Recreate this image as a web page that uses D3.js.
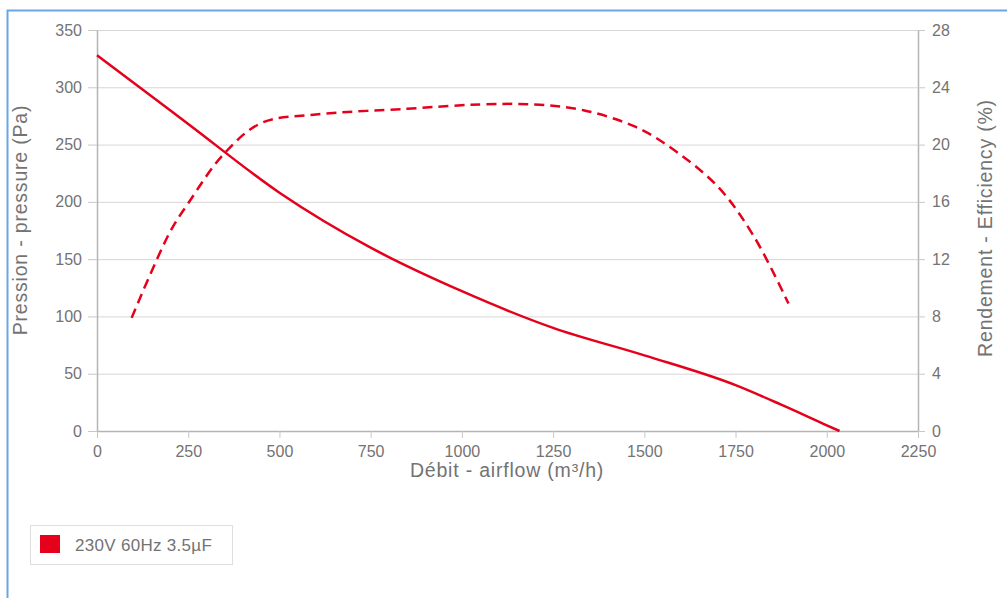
<!DOCTYPE html>
<html>
<head>
<meta charset="utf-8">
<script src="https://cdn.jsdelivr.net/npm/d3@7"></script>
<style>
  body { margin: 0; background: #fff; }
  svg { display: block; font-family: "Liberation Sans", Arial, sans-serif; }
  .tick text { fill: #737373; font-size: 16px; }
  .title { fill: #737373; font-size: 19.5px; letter-spacing: 0.8px; }
</style>
</head>
<body>
<div id="chart"></div>
<script>
// airflow (m3/h) -> pressure (Pa)
const pressureFlow = [0, 250, 500, 750, 1000, 1250, 1500, 1750, 1875, 2000, 2035];
const pressureVals = [328, 268, 208, 160, 122, 90, 66, 40, 23, 5, 0];
// airflow (m3/h) -> efficiency (%)
const effFlow = [95, 200, 250, 346, 450, 600, 850, 1050, 1200, 1333, 1470, 1560, 1700, 1800, 1895];
const effVals = [7.9, 13.9, 15.9, 19.3, 21.5, 22.1, 22.5, 22.8, 22.8, 22.4, 21.3, 20.0, 17.1, 13.6, 8.9];

const xTicks = [0, 250, 500, 750, 1000, 1250, 1500, 1750, 2000, 2250];
const yTicks = [0, 50, 100, 150, 200, 250, 300, 350];
const y2Ticks = [0, 4, 8, 12, 16, 20, 24, 28];
const seriesName = "230V 60Hz 3.5\u00b5F";

const W = 1007, H = 598;
const mLeft = 97, mRight = 918, mTop = 30, mBottom = 431;
const red = "#e5001c";

const svg = d3.select("#chart").append("svg").attr("width", W).attr("height", H);

// outer frame
svg.append("rect")
  .attr("x", 7.5).attr("y", 10.5).attr("width", 1010).attr("height", 600)
  .attr("fill", "none").attr("stroke", "#6aa6e6").attr("stroke-width", 2);

const x = d3.scaleLinear().domain([0, 2250]).range([mLeft, mRight]);
const y = d3.scaleLinear().domain([0, 350]).range([mBottom, mTop]);
const y2 = d3.scaleLinear().domain([0, 28]).range([mBottom, mTop]);

// grid
svg.append("g").selectAll("line").data(yTicks.slice(1)).enter().append("line")
  .attr("x1", mLeft).attr("x2", mRight)
  .attr("y1", d => y(d) + 0.5).attr("y2", d => y(d) + 0.5)
  .attr("stroke", "#d6d6d6");

function styleAxis(g) {
  g.select(".domain").attr("stroke", "#b4b4b4").attr("stroke-width", 1.5);
  g.selectAll(".tick line").attr("stroke", "#c8c8c8");
}

const fmt = d3.format("d");
svg.append("g").attr("transform", `translate(0,${mBottom})`)
  .call(d3.axisBottom(x).tickValues(xTicks).tickFormat(fmt).tickSize(7).tickSizeOuter(0).tickPadding(8))
  .call(styleAxis);
svg.append("g").attr("transform", `translate(${mLeft},0)`)
  .call(d3.axisLeft(y).tickValues(yTicks).tickFormat(fmt).tickSize(9).tickSizeOuter(0).tickPadding(6))
  .call(styleAxis);
svg.append("g").attr("transform", `translate(${mRight},0)`)
  .call(d3.axisRight(y2).tickValues(y2Ticks).tickFormat(fmt).tickSize(7).tickSizeOuter(0).tickPadding(7))
  .call(styleAxis);

// axis titles
svg.append("text").attr("class", "title")
  .attr("transform", "translate(27,220) rotate(-90)")
  .attr("text-anchor", "middle").text("Pression - pressure (Pa)");
svg.append("text").attr("class", "title")
  .attr("transform", "translate(992,228) rotate(-90)")
  .attr("text-anchor", "middle").text("Rendement - Efficiency (%)");
svg.append("text").attr("class", "title")
  .attr("x", 507).attr("y", 477).attr("text-anchor", "middle")
  .text("Débit - airflow (m³/h)");

// curves
const pLine = d3.line().curve(d3.curveMonotoneX)
  .x((d, i) => x(pressureFlow[i])).y(d => y(d));
svg.append("path").datum(pressureVals)
  .attr("d", pLine).attr("fill", "none")
  .attr("stroke", red).attr("stroke-width", 2.5);

const eLine = d3.line().curve(d3.curveCatmullRom)
  .x((d, i) => x(effFlow[i])).y(d => y2(d));
svg.append("path").datum(effVals)
  .attr("d", eLine).attr("fill", "none")
  .attr("stroke", red).attr("stroke-width", 2.5)
  .attr("stroke-dasharray", "10,6");

// legend
const lg = svg.append("g").attr("transform", "translate(30,525)");
lg.append("rect").attr("x", 0.5).attr("y", 0.5).attr("width", 202).attr("height", 39)
  .attr("fill", "#fff").attr("stroke", "#dedede");
lg.append("rect").attr("x", 10).attr("y", 10).attr("width", 20).attr("height", 18)
  .attr("fill", red);
lg.append("text").attr("x", 45).attr("y", 26)
  .attr("fill", "#737373").style("font-size", "17px").style("letter-spacing", "0.3px")
  .text(seriesName);
</script>
</body>
</html>
